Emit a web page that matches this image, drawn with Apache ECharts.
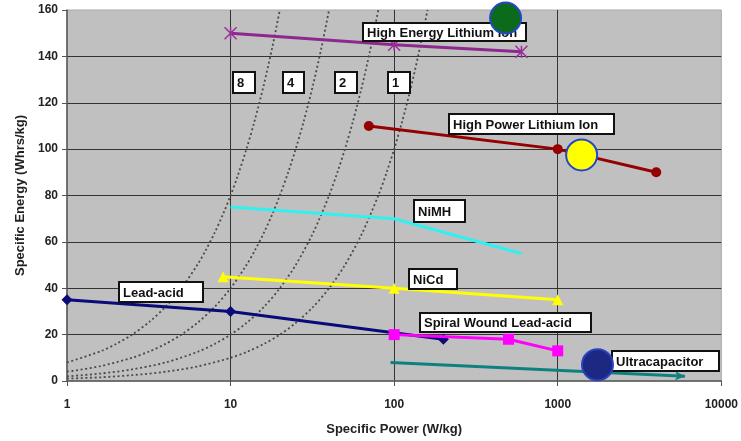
<!DOCTYPE html>
<html>
<head>
<meta charset="utf-8">
<script src="https://cdn.jsdelivr.net/npm/echarts@6/dist/echarts.min.js"></script>
<style>
  html, body { margin: 0; padding: 0; background: #ffffff; }
  #chart { width: 741px; height: 441px; }
</style>
</head>
<body>
<div id="chart"></div>
<script>
// Specific power (W/kg, log scale) vs specific energy (Wh/kg) per chemistry
const highEnergyLiIon = [[10, 150], [100, 145], [600, 142]];
const highPowerLiIon  = [[70, 110], [1000, 100], [4000, 90]];
const niMH            = [[10, 75], [100, 70], [600, 55]];
const niCd            = [[9, 45], [100, 40], [1000, 35]];
const leadAcid        = [[1, 35], [10, 30], [200, 18]];
const spiralWound     = [[100, 20], [500, 18], [1000, 13]];
const ultracapacitor  = [[95, 8], [6000, 2]];

// Highlighted operating points
const greenPoint  = [[480, 156.5]];
const yellowPoint = [[1400, 97.5]];
const navyPoint   = [[1750, 7]];

// Constant run-time lines (hours of discharge)
const runTime8h = [[1, 8], [1.6, 12.8], [2, 16], [2.5, 20], [3.2, 25.6], [4, 32], [5, 40], [6.3, 50.4], [7, 56], [8, 64], [9, 72], [10, 80], [11, 88], [12.5, 100], [14, 112], [16, 128], [18, 144], [20, 160]];
const runTime4h = [[1, 4], [1.6, 6.4], [2.5, 10], [3.2, 12.8], [4, 16], [5, 20], [6.3, 25.2], [8, 32], [10, 40], [12.5, 50], [14, 56], [16, 64], [18, 72], [20, 80], [22.5, 90], [25, 100], [28, 112], [32, 128], [36, 144], [40, 160]];
const runTime2h = [[1, 2], [1.6, 3.2], [2.5, 5], [4, 8], [6.3, 12.6], [8, 16], [10, 20], [12.5, 25], [16, 32], [20, 40], [25, 50], [32, 64], [40, 80], [45, 90], [50, 100], [56, 112], [63, 126], [71, 142], [80, 160]];
const runTime1h = [[1, 1], [1.6, 1.6], [2.5, 2.5], [4, 4], [6.3, 6.3], [10, 10], [12.5, 12.5], [16, 16], [20, 20], [25, 25], [32, 32], [40, 40], [50, 50], [63, 63], [80, 80], [90, 90], [100, 100], [112, 112], [125, 125], [140, 140], [160, 160]];

const xTicks = [1, 10, 100, 1000, 10000];
const yRange = [0, 160];
const yStep = 20;

const chart = echarts.init(document.getElementById('chart'), null, { renderer: 'canvas' });

const FONT = '"Liberation Sans", Arial, sans-serif';

function dotted(data) {
  return {
    type: 'line', data: data, symbol: 'none', silent: true, z: 3, smooth: 0.3,
    lineStyle: { color: '#4a4a4a', width: 1.8, type: [2, 2.6] }
  };
}

function labelBox(text, x, y, w, h) {
  return {
    type: 'group', x: x, y: y, z: 30,
    children: [
      { type: 'rect', z: 30, shape: { x: 0, y: 0, width: w, height: h },
        style: { fill: '#ffffff', stroke: '#111111', lineWidth: 2 } },
      { type: 'text', z: 31, style: { text: text, x: 4, y: h / 2 + 1, verticalAlign: 'middle',
        font: 'bold 13px ' + FONT, fill: '#111111' } }
    ]
  };
}

function bubble(data, fill, border) {
  return {
    type: 'scatter', data: data, symbol: 'circle', symbolSize: 31, z: 40, clip: false,
    itemStyle: { color: fill, borderColor: border, borderWidth: 2, opacity: 1 }
  };
}

chart.setOption({
  animation: false,
  backgroundColor: '#ffffff',
  grid: {
    left: 67, right: 19, top: 10, bottom: 58,
    show: true, backgroundColor: '#c0c0c0', borderColor: '#a8a8a8', borderWidth: 1
  },
  xAxis: {
    type: 'log', logBase: 10, min: xTicks[0], max: xTicks[xTicks.length - 1],
    name: 'Specific Power (W/kg)', nameLocation: 'middle', nameGap: 42,
    nameTextStyle: { fontFamily: FONT, fontWeight: 'bold', fontSize: 13, color: '#222' },
    axisLine: { show: true, lineStyle: { color: '#555', width: 1.5 } },
    axisTick: { show: true, length: 5, lineStyle: { color: '#555' } },
    minorTick: { show: false },
    axisLabel: { fontFamily: FONT, fontWeight: 'bold', fontSize: 12, color: '#222', margin: 18,
      formatter: function (v) { return String(Math.round(v)); } },
    splitLine: { show: true, showMinLine: false, showMaxLine: false, lineStyle: { color: '#333', width: 1 } }
  },
  yAxis: {
    type: 'value', min: yRange[0], max: yRange[1], interval: yStep,
    name: 'Specific Energy (Whrs/kg)', nameLocation: 'middle', nameGap: 38, nameRotate: 90,
    nameTextStyle: { fontFamily: FONT, fontWeight: 'bold', fontSize: 13, color: '#222' },
    axisLine: { show: true, lineStyle: { color: '#555', width: 1.5 } },
    axisTick: { show: true, length: 5, lineStyle: { color: '#555' } },
    axisLabel: { fontFamily: FONT, fontWeight: 'bold', fontSize: 12, color: '#222', margin: 9 },
    splitLine: { show: true, showMinLine: false, showMaxLine: false, lineStyle: { color: '#333', width: 1 } }
  },
  series: [
    dotted(runTime8h), dotted(runTime4h), dotted(runTime2h), dotted(runTime1h),
    {
      name: 'High Energy Lithium Ion', type: 'line', data: highEnergyLiIon, z: 5,
      symbol: 'path://M0,0L10,10M10,0L0,10M5,0L5,10', symbolSize: 12,
      itemStyle: { color: 'rgba(0,0,0,0)', borderColor: '#9a2f9a', borderWidth: 1.5 },
      lineStyle: { color: '#8e278e', width: 3 }
    },
    {
      name: 'High Power Lithium Ion', type: 'line', data: highPowerLiIon, z: 5,
      symbol: 'circle', symbolSize: 10,
      itemStyle: { color: '#950000' }, lineStyle: { color: '#950000', width: 3 }
    },
    {
      name: 'NiMH', type: 'line', data: niMH, z: 5, symbol: 'none',
      lineStyle: { color: '#33f0f0', width: 3 }
    },
    {
      name: 'NiCd', type: 'line', data: niCd, z: 5,
      symbol: 'triangle', symbolSize: 11,
      itemStyle: { color: '#ffff00' }, lineStyle: { color: '#ffff00', width: 3 }
    },
    {
      name: 'Lead-acid', type: 'line', data: leadAcid, z: 5,
      symbol: 'diamond', symbolSize: 11,
      itemStyle: { color: '#0a0a7a' }, lineStyle: { color: '#0a0a7a', width: 3 }
    },
    {
      name: 'Spiral Wound Lead-acid', type: 'line', data: spiralWound, z: 6,
      symbol: 'rect', symbolSize: 11,
      itemStyle: { color: '#ff00ff' }, lineStyle: { color: '#ff00ff', width: 3 }
    },
    {
      name: 'Ultracapacitor', type: 'line', data: [], z: 5,
      markLine: {
        silent: true, symbol: ['none', 'arrow'], symbolSize: [7, 10],
        label: { show: false },
        lineStyle: { color: '#0f8080', width: 3, type: 'solid' },
        data: [[{ coord: ultracapacitor[0] }, { coord: ultracapacitor[1] }]]
      }
    },
    bubble(greenPoint, '#0b6a1c', '#2448c8'),
    bubble(yellowPoint, '#ffff00', '#2448c8'),
    bubble(navyPoint, '#1c2882', '#2a40c0')
  ],
  graphic: [
    labelBox('High Energy Lithium Ion', 363, 23, 163, 18),
    labelBox('8', 233, 72, 22, 21),
    labelBox('4', 283, 72, 21, 21),
    labelBox('2', 335, 72, 22, 21),
    labelBox('1', 388, 72, 22, 21),
    labelBox('High Power Lithium Ion', 449, 114, 165, 20),
    labelBox('NiMH', 414, 200, 51, 22),
    labelBox('NiCd', 409, 269, 48, 20),
    labelBox('Lead-acid', 119, 282, 84, 20),
    labelBox('Spiral Wound Lead-acid', 420, 313, 171, 19),
    labelBox('Ultracapacitor', 612, 351, 107, 20)
  ]
});
</script>
</body>
</html>
